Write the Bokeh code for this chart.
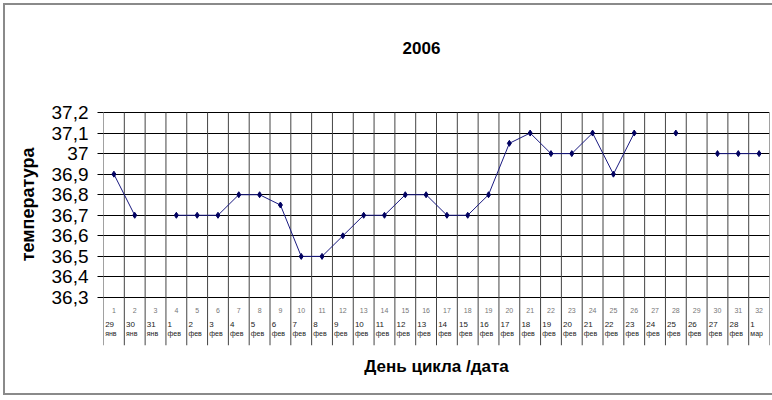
import math
from bokeh.plotting import figure
from bokeh.models import Range1d, FixedTicker, Title, Label, ColumnDataSource, InlineStyleSheet
from bokeh.core.properties import value
from bokeh.embed import file_html
from bokeh.resources import INLINE

# ---- data ----
days = list(range(1, 33))
temps = [36.9, 36.7, None, 36.7, 36.7, 36.7, 36.8, 36.8, 36.75, 36.5,
         36.5, 36.6, 36.7, 36.7, 36.8, 36.8, 36.7, 36.7, 36.8, 37.05,
         37.1, 37.0, 37.0, 37.1, 36.9, 37.1, None, 37.1, None, 37.0,
         37.0, 37.0]
date_nums = ["29", "30", "31", "1", "2", "3", "4", "5", "6", "7", "8", "9",
             "10", "11", "12", "13", "14", "15", "16", "17", "18", "19", "20",
             "21", "22", "23", "24", "25", "26", "27", "28", "1"]
date_months = ["янв", "янв", "янв"] + ["фев"] * 28 + ["мар"]
y_ticks = [36.3, 36.4, 36.5, 36.6, 36.7, 36.8, 36.9, 37.0, 37.1, 37.2]
y_tick_labels = ["36,3", "36,4", "36,5", "36,6", "36,7", "36,8", "36,9", "37", "37,1", "37,2"]
title_text = "2006"
x_title = "День цикла /дата"
y_title = "температура"

FONT = "Liberation Sans"
W, H = 772, 400
LEFT, RIGHT, TOP, BOTTOM = 103, 3, 20, 55
GRID_TOP_PX = 112          # pixel row of the top gridline
px_per_unit = 185 / 0.9
y_top = y_ticks[-1]
y_bottom = y_top - (H - BOTTOM - GRID_TOP_PX) / px_per_unit
y_range_top = y_top + (GRID_TOP_PX - TOP) / px_per_unit

p = figure(width=W, height=H, output_backend="svg", toolbar_location=None,
           x_range=Range1d(0.5, len(days) + 0.5),
           y_range=Range1d(y_bottom, y_range_top),
           min_border_left=LEFT, min_border_right=RIGHT,
           min_border_top=TOP, min_border_bottom=BOTTOM,
           title=None)
p.outline_line_color = None
p.background_fill_color = "white"
p.border_fill_color = "white"

# outer chart frame (left, top, bottom sides visible)
p.stylesheets = [InlineStyleSheet(css="""
:host { position: relative; }
:host::after { content: ""; position: absolute; left: 3px; top: 3px; right: 0px; bottom: 5px;
  border: 2px solid #8a8a8a; border-right: none; pointer-events: none; z-index: 10; }
""")]

# y axis
p.yaxis.ticker = FixedTicker(ticks=y_ticks)
p.yaxis.major_label_overrides = {t: l for t, l in zip(y_ticks, y_tick_labels)}
p.yaxis.major_label_text_font = FONT
p.yaxis.major_label_text_font_size = "19px"
p.yaxis.major_label_text_color = "black"
p.yaxis.major_tick_out = 6
p.yaxis.major_tick_in = 0
p.yaxis.major_tick_line_color = "black"
p.yaxis.minor_tick_line_color = None
p.yaxis.axis_line_color = None
p.yaxis.major_label_standoff = 9

# x axis (title only)
p.xaxis.ticker = FixedTicker(ticks=[])
p.xaxis.major_tick_line_color = None
p.xaxis.minor_tick_line_color = None
p.xaxis.axis_line_color = None
p.xaxis.major_label_text_font_size = "0px"
p.xaxis.axis_label = x_title
p.xaxis.axis_label_text_font = FONT
p.xaxis.axis_label_text_font_size = "17px"
p.xaxis.axis_label_text_font_style = "bold"
p.xaxis.axis_label_text_color = "black"
p.xaxis.axis_label_standoff = 11

# grids
p.ygrid.ticker = FixedTicker(ticks=y_ticks)
p.ygrid.grid_line_color = "black"
p.ygrid.grid_line_width = 1
p.xgrid.grid_line_color = None
bounds = [d - 0.5 for d in days] + [days[-1] + 0.5]
p.segment(x0=bounds, y0=[y_bottom] * len(bounds), x1=bounds, y1=[y_top] * len(bounds),
          line_color="#444444", line_width=1)

# table texts below the lowest gridline
row1 = y_ticks[0] - 13 / px_per_unit
row2 = y_ticks[0] - 27 / px_per_unit
row3 = y_ticks[0] - 36 / px_per_unit
src = ColumnDataSource(dict(x=days, xl=[d - 0.42 for d in days],
                            dn=[str(d) for d in days], num=date_nums, mon=date_months))
p.text(x="x", y=row1, text="dn", source=src, text_font=value(FONT),
       text_font_size="7px", text_color="#777777", text_align="center",
       text_baseline="middle")
p.text(x="xl", y=row2, text="num", source=src, text_font=value(FONT),
       text_font_size="8px", text_color="#222222", text_align="left",
       text_baseline="middle")
p.text(x="xl", y=row3, text="mon", source=src, text_font=value(FONT),
       text_font_size="7px", text_color="#222222", text_align="left",
       text_baseline="middle")

# series
ys = [float("nan") if v is None else v for v in temps]
p.line(days, ys, line_color="#1a1a80", line_width=1)
pts = [(d, v) for d, v in zip(days, temps) if v is not None]
p.scatter([d for d, _ in pts], [v for _, v in pts], marker="diamond", size=6,
          fill_color="#000060", line_color="#000060")

# chart title (inside the frame area, above the grid)
p.add_layout(Label(x=318, y=H - BOTTOM - 47, x_units="screen", y_units="screen",
                   text=title_text, text_font=FONT, text_font_size="17px",
                   text_font_style="bold", text_align="center", text_baseline="middle",
                   text_color="black"))
# y title
p.add_layout(Title(text=y_title, align="right", offset=127, standoff=22,
                   text_font=FONT, text_font_size="18px", text_font_style="bold",
                   text_color="black"), "left")

open("out.html", "w").write(file_html(p, INLINE))
